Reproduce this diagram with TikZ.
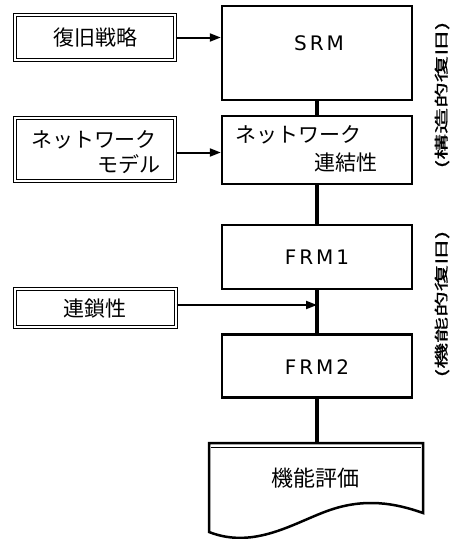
\documentclass[tikz,border=0pt]{standalone}
\usepackage{fontspec}
\newfontfamily\jp{Noto Sans CJK JP}
\newfontfamily\latw[LetterSpace=15]{DejaVu Sans}
\newfontfamily\vjp[FakeBold=1,FakeStretch=1.85]{Noto Sans CJK JP}
\usetikzlibrary{arrows.meta}
\tikzset{
  mainbox/.style={draw, line width=2.5pt, inner sep=0pt},
  inbox/.style={draw, line width=1.1pt, double, double distance=2.6pt, inner sep=0pt},
  jptext/.style={font=\jp\fontsize{21}{24}\selectfont, inner sep=0pt},
  lattext/.style={font=\latw\fontsize{20}{24}\selectfont, inner sep=0pt},
  sidetext/.style={rotate=90, font=\vjp\fontsize{14}{16}\selectfont, inner sep=0pt},
  conn/.style={line width=3.2pt},
  arr/.style={line width=2pt, -{Triangle[length=11pt,width=8pt]}},
}
\begin{document}
\begin{tikzpicture}[x=1pt,y=-1pt]
\useasboundingbox (0,0) rectangle (454,539);
% main column
\node[mainbox, minimum width=190, minimum height=94] (srm) at (317,53) {};
\node[lattext] (srmt) at (319,43) {SRM};
\node[mainbox, minimum width=190, minimum height=68] (netc) at (317,150) {};
\node[jptext] (netct1) at (298,135) {ネットワーク};
\node[jptext] (netct2) at (346,163) {連結性};
\node[mainbox, minimum width=190, minimum height=64] (frm1) at (317,257) {};
\node[lattext] (frm1t) at (317,257) {FRM1};
\node[mainbox, minimum width=190, minimum height=63] (frm2) at (317,366) {};
\node[lattext] (frm2t) at (317,367) {FRM2};
% document shape
\coordinate (doctop) at (317,443);
\draw[line width=2.5pt, line join=miter]
  (209,443) -- (423,443) -- (423,513)
  .. controls (395,503) and (365,498) .. (330,510)
  .. controls (295,522) and (255,550) .. (209,532) -- cycle;
\draw[line width=0.8pt] (211,447.5) -- (421,447.5);
\node[jptext, font=\jp\fontsize{22}{24}\selectfont] (doct) at (315,478) {機能評価};
% left inputs
\node[inbox, minimum width=160, minimum height=45] (strat) at (95,37.5) {};
\node[jptext] (stratt) at (95,37.5) {復旧戦略};
\node[inbox, minimum width=160, minimum height=63] (model) at (95,149.5) {};
\node[jptext] (modelt1) at (94,140) {ネットワーク};
\node[jptext] (modelt2) at (129,164) {モデル};
\node[inbox, minimum width=161, minimum height=38] (chain) at (95.5,308) {};
\node[jptext] (chaint) at (95,309) {連鎖性};
% connectors
\draw[conn] (srm) -- (netc);
\draw[conn] (netc) -- (frm1);
\draw[conn] (frm1) -- (frm2);
\draw[conn] (frm2) -- (doctop);
\draw[arr] (strat.east) -- (strat.east -| srm.west);
\draw[arr] ([yshift=-3pt]model.east) -- ([yshift=-3pt]model.east -| netc.west);
\draw[arr] ([yshift=3pt]chain.east) -- ([yshift=3pt]chain.east -| frm1.south);
% side labels
\node[sidetext] (lab1) at (442,95) {(構造的復旧)};
\node[sidetext] (lab2) at (442,304) {(機能的復旧)};
\end{tikzpicture}
\end{document}
